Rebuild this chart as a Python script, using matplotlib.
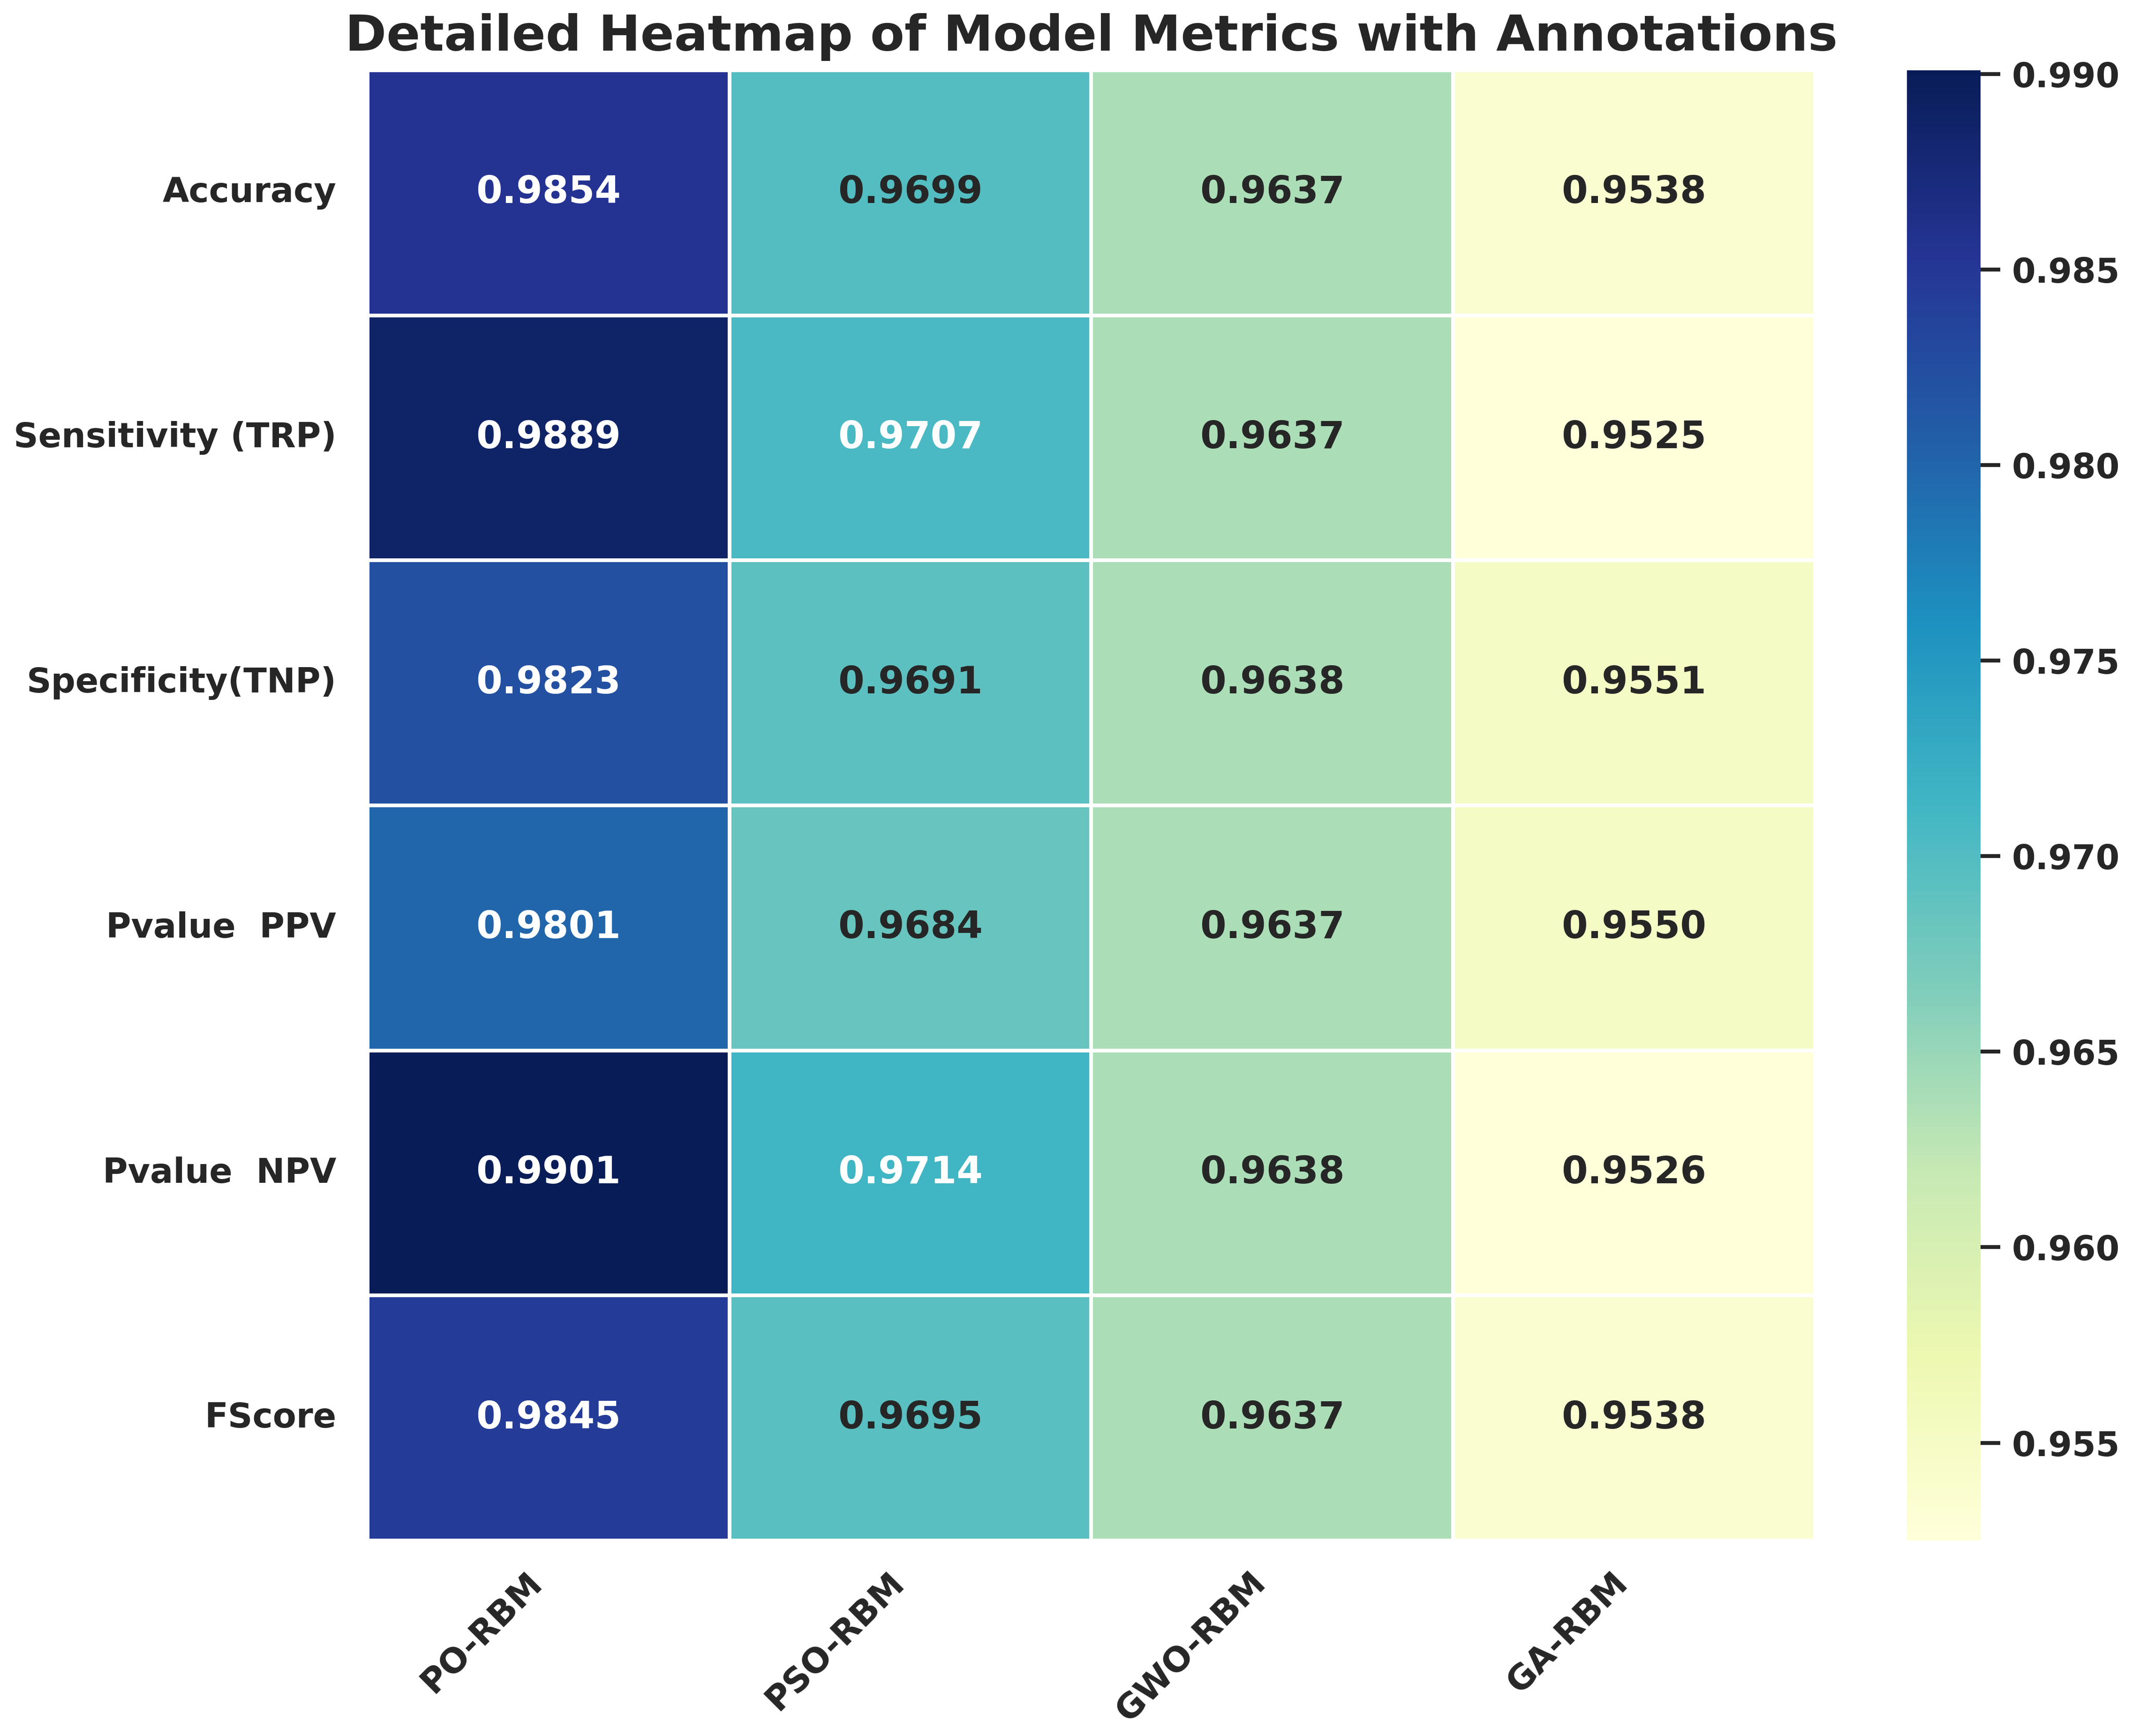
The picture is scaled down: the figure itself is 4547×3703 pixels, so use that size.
import numpy as np
import pandas as pd
import matplotlib
matplotlib.use("Agg")
import matplotlib.pyplot as plt
import seaborn as sns

# ---------------------------------------------------------------
# Model metrics (rows = metric, columns = model)
# ---------------------------------------------------------------
models = ["PO-RBM", "PSO-RBM", "GWO-RBM", "GA-RBM"]
metrics = ["Accuracy", "Sensitivity (TRP)", "Specificity(TNP)",
           "Pvalue  PPV", "Pvalue  NPV", "FScore"]

accuracy = [0.9854, 0.9699, 0.9637, 0.9538]
sensitivity = [0.9889, 0.9707, 0.9637, 0.9525]
specificity = [0.9823, 0.9691, 0.9638, 0.9551]
ppv = [0.9801, 0.9684, 0.9637, 0.9550]
npv = [0.9901, 0.9714, 0.9638, 0.9526]
fscore = [0.9845, 0.9695, 0.9637, 0.9538]

cbar_ticks = [0.955, 0.960, 0.965, 0.970, 0.975, 0.980, 0.985, 0.990]

df = pd.DataFrame([accuracy, sensitivity, specificity, ppv, npv, fscore],
                  index=metrics, columns=models)

sns.set_theme(style="white", context="talk")
plt.rcParams['font.family'] = ['DejaVu Sans']

W, H, DPI = 4547, 3703, 300
fig = plt.figure(figsize=(W / DPI, H / DPI), dpi=DPI)
ax = fig.add_axes([0.1724, 0.1126, 0.8513 - 0.1724, 0.9595 - 0.1126])
cax = fig.add_axes([0.8944, 0.1126, 0.9290 - 0.8944, 0.9595 - 0.1126])

sns.heatmap(df, ax=ax, cbar_ax=cax, cmap="YlGnBu", annot=True, fmt=".4f",
            linewidths=1.5, linecolor="white",
            annot_kws={"size": 19.2, "weight": "bold"})

ax.set_title("Detailed Heatmap of Model Metrics with Annotations",
             fontsize=25.5, fontweight="bold", pad=10)
ax.set_xticklabels(models, rotation=45, ha="right", fontsize=17.5,
                   fontweight="bold")
ax.set_yticklabels(metrics, rotation=0, fontsize=17.5, fontweight="bold")
ax.tick_params(axis="y", length=0, pad=16)
ax.tick_params(axis="x", length=0, pad=13)

cax.set_yticks(cbar_ticks)
cax.set_yticklabels([f"{t:.3f}" for t in cbar_ticks], fontsize=17.5,
                    fontweight="bold")
cax.tick_params(axis="y", length=10, width=2, pad=6)

fig.savefig("out.png", dpi=DPI)
